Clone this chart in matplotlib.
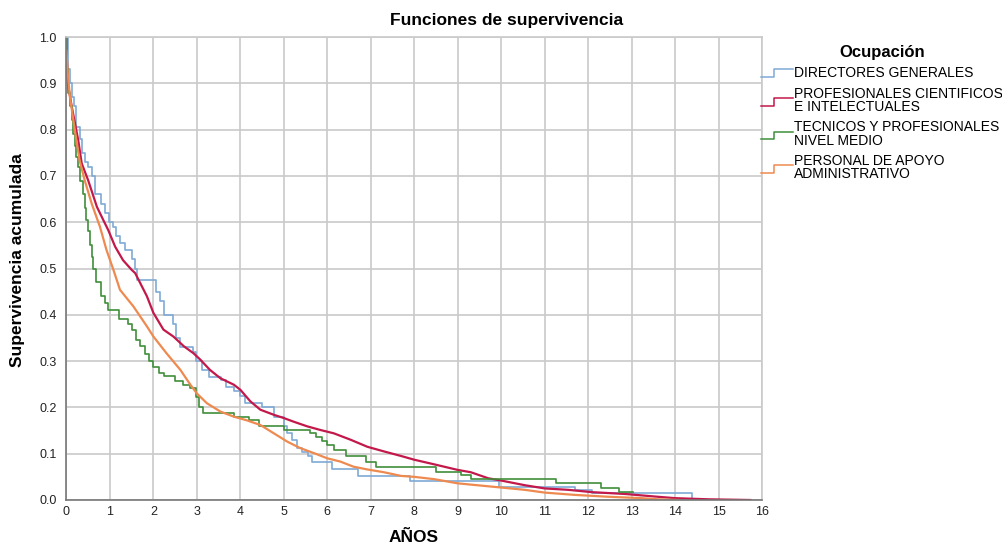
import matplotlib
matplotlib.use("Agg")
import matplotlib.pyplot as plt
import numpy as np
from matplotlib.lines import Line2D
from matplotlib.legend_handler import HandlerBase

plt.rcParams['font.family'] = ['Liberation Sans', 'DejaVu Sans']

# Kaplan-Meier curves (years, cumulative survival)
directores_t = [0, 0.03, 0.08, 0.12, 0.17, 0.23, 0.30, 0.35, 0.42, 0.50, 0.58, 0.65, 0.80, 0.88,
                0.97, 1.08, 1.15, 1.23, 1.35, 1.50, 1.58, 1.62, 2.05, 2.15, 2.25, 2.45, 2.52, 2.62,
                2.90, 2.98, 3.12, 3.28, 3.55, 3.68, 3.85, 4.00, 4.10, 4.50, 4.78, 5.00, 5.08, 5.18,
                5.30, 5.42, 5.55, 5.65, 6.10, 6.70, 7.90, 9.95, 11.70, 12.10, 14.40]
directores_s = [1.0, 0.93, 0.90, 0.87, 0.85, 0.805, 0.78, 0.75, 0.73, 0.72, 0.70, 0.66, 0.64, 0.62,
                0.60, 0.59, 0.57, 0.555, 0.54, 0.52, 0.50, 0.475, 0.45, 0.43, 0.40, 0.38, 0.35, 0.33,
                0.32, 0.30, 0.28, 0.265, 0.26, 0.245, 0.235, 0.225, 0.21, 0.20, 0.18, 0.16, 0.145, 0.13,
                0.112, 0.104, 0.094, 0.081, 0.066, 0.052, 0.041, 0.029, 0.022, 0.015, 0.0]

profesionales_t = [0, 0.03, 0.12, 0.27, 0.35, 0.50, 0.70, 0.85, 0.96, 1.12, 1.30, 1.50, 1.58, 1.85,
                   2.00, 2.23, 2.46, 2.70, 2.92, 3.08, 3.30, 3.54, 3.85, 4.00, 4.23, 4.46, 4.77, 5.00,
                   5.23, 5.54, 5.85, 6.15, 6.54, 6.92, 7.30, 7.70, 8.00, 8.46, 9.00, 9.30, 9.70, 10.00,
                   10.54, 11.00, 11.54, 12.08, 12.85, 13.60, 14.00, 14.77, 15.73]
profesionales_s = [0.97, 0.90, 0.85, 0.777, 0.727, 0.69, 0.633, 0.604, 0.583, 0.547, 0.518, 0.497, 0.49, 0.44,
                   0.404, 0.368, 0.353, 0.332, 0.317, 0.303, 0.281, 0.263, 0.249, 0.238, 0.213, 0.195, 0.184, 0.177,
                   0.169, 0.159, 0.151, 0.144, 0.13, 0.115, 0.105, 0.095, 0.087, 0.077, 0.065, 0.06, 0.047, 0.042,
                   0.032, 0.025, 0.022, 0.017, 0.013, 0.007, 0.004, 0.0015, 0.0]

tecnicos_t = [0, 0.02, 0.04, 0.08, 0.12, 0.16, 0.19, 0.23, 0.27, 0.32, 0.38, 0.42, 0.46, 0.50, 0.54,
              0.58, 0.62, 0.69, 0.80, 0.88, 0.95, 1.20,
              1.42, 1.50, 1.60, 1.70, 1.80, 1.90, 2.00, 2.12, 2.25, 2.50, 2.68, 2.85, 2.98, 3.04, 3.15,
              3.85, 4.20, 4.42, 5.00, 5.60, 5.75, 5.88, 6.00, 6.15, 6.42, 6.90, 7.13, 8.50, 9.08, 9.30,
              11.25, 12.30, 12.70, 13.04]
tecnicos_s = [1.0, 0.93, 0.88, 0.85, 0.82, 0.79, 0.765, 0.74, 0.72, 0.69, 0.66, 0.63, 0.605, 0.58, 0.55,
              0.525, 0.50, 0.47, 0.44, 0.425, 0.41, 0.39,
              0.38, 0.368, 0.346, 0.332, 0.315, 0.30, 0.288, 0.275, 0.267, 0.256, 0.249, 0.242, 0.223, 0.20, 0.187,
              0.18, 0.172, 0.16, 0.151, 0.144, 0.136, 0.128, 0.118, 0.108, 0.095, 0.083, 0.071, 0.061, 0.054, 0.045,
              0.036, 0.026, 0.018, 0.018]

apoyo_t = [0, 0.03, 0.08, 0.19, 0.30, 0.42, 0.58, 0.77, 0.92, 1.08, 1.23, 1.54, 1.85, 2.00, 2.30,
           2.62, 2.85, 3.00, 3.23, 3.54, 3.85, 4.15, 4.46, 4.77, 5.08, 5.38, 5.70, 6.00, 6.30, 6.60,
           6.92, 7.30, 7.70, 8.00, 8.46, 9.00, 9.77, 10.54, 11.00, 11.70, 12.46, 13.23, 13.60, 14.10]
apoyo_s = [0.97, 0.92, 0.87, 0.80, 0.734, 0.69, 0.64, 0.59, 0.54, 0.497, 0.454, 0.418, 0.375, 0.353, 0.317,
           0.281, 0.249, 0.23, 0.209, 0.191, 0.18, 0.172, 0.162, 0.144, 0.126, 0.112, 0.101, 0.09, 0.083, 0.072,
           0.066, 0.06, 0.052, 0.05, 0.045, 0.036, 0.029, 0.022, 0.016, 0.011, 0.007, 0.004, 0.0015, 0.0]

labels = ['DIRECTORES GENERALES', 'PROFESIONALES CIENTIFICOS\nE INTELECTUALES',
          'TECNICOS Y PROFESIONALES\nNIVEL MEDIO', 'PERSONAL DE APOYO\nADMINISTRATIVO']
colors = ['#7FAAD6', '#C2184A', '#3F8F3A', '#EE8A50']


class StepHandler(HandlerBase):
    def create_artists(self, legend, orig_handle, xdescent, ydescent, width, height, fontsize, trans):
        xs = np.array([0, 0.42, 0.42, 1.0]) * width - xdescent
        ys = np.array([0.0, 0.0, 0.8, 0.8]) * height - ydescent
        ln = Line2D(xs, ys, color=orig_handle.get_color(), lw=1.1)
        ln.set_transform(trans)
        return [ln]


fig = plt.figure(figsize=(10.03, 5.49), dpi=100)
ax = fig.add_axes([66.5 / 1003, 1 - 500 / 549, (762 - 66.5) / 1003, (500 - 37) / 549])

handles = []
h, = ax.plot(directores_t, directores_s, drawstyle='steps-post', color=colors[0], lw=1.2)
handles.append(h)
h, = ax.plot(profesionales_t, profesionales_s, color=colors[1], lw=1.6)
handles.append(h)
h, = ax.plot(tecnicos_t, tecnicos_s, drawstyle='steps-post', color=colors[2], lw=1.2)
handles.append(h)
h, = ax.plot(apoyo_t, apoyo_s, color=colors[3], lw=1.6)
handles.append(h)

ax.set_xlim(0, 16)
ax.set_ylim(0, 1.0)
ax.set_xticks(np.arange(0, 17, 1))
ax.set_yticks(np.arange(0, 1.01, 0.1))
ax.set_yticklabels([f'{v:.1f}' for v in np.arange(0, 1.01, 0.1)])
ax.grid(True, color='#CACACA', lw=1.2)
ax.set_axisbelow(True)
ax.tick_params(length=0, labelsize=9, colors='#222222')
ax.tick_params(axis='y', pad=7)
ax.tick_params(axis='x', pad=4)
for s in ['top', 'right']:
    ax.spines[s].set_color('#CACACA')
    ax.spines[s].set_linewidth(1.2)
for s in ['left', 'bottom']:
    ax.spines[s].set_color('#777777')
    ax.spines[s].set_linewidth(1.2)

fig.text(507 / 1003, 1 - 20 / 549, 'Funciones de supervivencia', ha='center', va='center',
         fontsize=12.5, fontweight='bold')
fig.text(18 / 1003, 1 - 260 / 549, 'Supervivencia acumulada', ha='center', va='center',
         rotation=90, fontsize=12.5, fontweight='bold')
fig.text(414 / 1003, 1 - 538 / 549, 'AÑOS', ha='center', va='center', fontsize=12.5, fontweight='bold')

leg = fig.legend(handles, labels, loc='upper left', bbox_to_anchor=(761 / 1003, 1 - 45 / 549),
                 frameon=False, fontsize=10, title='Ocupación',
                 title_fontproperties={'weight': 'bold', 'size': 12},
                 handler_map={Line2D: StepHandler()}, handlelength=2.3, handletextpad=0.1,
                 labelspacing=0.45, borderaxespad=0, borderpad=0)
for t in leg.get_texts():
    t.set_linespacing(0.95)

fig.savefig('out.png', dpi=100)
